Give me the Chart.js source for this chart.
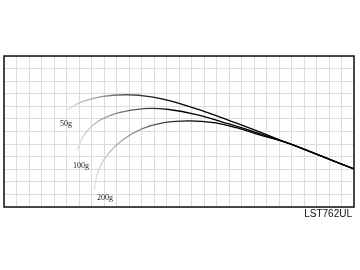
<!DOCTYPE html>
<html><head><meta charset="utf-8">
<script src="https://cdn.jsdelivr.net/npm/chart.js@4/dist/chart.umd.min.js"></script>
<style>html,body{margin:0;padding:0;background:#fff}canvas{display:block}</style>
</head><body>
<canvas id="c" width="360" height="270"></canvas>
<script>
const seriesNames = ['50g', '100g', '200g'];
const x50 = [5.04, 6.2, 7.8, 9.8, 11.8, 13.8, 16.0, 18.5, 21.0, 23.0, 25.5, 28];
const y50 = [7.71, 8.35, 8.78, 8.92, 8.75, 8.30, 7.60, 6.70, 5.75, 4.97, 4.00, 3.02];
const x100 = [5.84, 6.5, 7.6, 9.2, 11.2, 13.2, 15.4, 18.0, 20.5, 23.0, 25.5, 28];
const y100 = [4.53, 5.85, 6.85, 7.50, 7.82, 7.75, 7.35, 6.60, 5.82, 4.97, 4.00, 3.02];
const x200 = [7.2, 7.55, 8.3, 9.5, 11.0, 12.8, 14.8, 16.8, 18.6, 20.5, 23.0, 25.5, 28];
const y200 = [1.35, 2.90, 4.20, 5.35, 6.20, 6.70, 6.85, 6.70, 6.30, 5.72, 4.97, 4.00, 3.02];
const labelX = [4.48, 5.52, 7.44];
const labelY = [6.6, 3.26, 0.72];
const modelName = 'LST762UL';

function pts(xs, ys) { return xs.map((x, i) => ({x: x, y: ys[i]})); }

function grad(ctx) {
  const chart = ctx.chart;
  const area = chart.chartArea;
  if (!area) return '#000';
  const ds = chart.data.datasets[ctx.datasetIndex];
  const xs = chart.scales.x;
  const x0 = xs.getPixelForValue(ds.data[0].x);
  const g = chart.ctx.createLinearGradient(x0, 0, x0 + 100, 0);
  g.addColorStop(0, '#e2e2e2');
  g.addColorStop(0.5, '#6a6a6a');
  g.addColorStop(1, '#000000');
  return g;
}

const overlay = {
  id: 'overlay',
  afterDraw(chart) {
    const c = chart.ctx, a = chart.chartArea;
    const xs = chart.scales.x, ys = chart.scales.y;
    c.save();
    c.strokeStyle = '#111';
    c.lineWidth = 1.5;
    c.strokeRect(a.left, a.top, a.right - a.left, a.bottom - a.top);
    c.fillStyle = '#222';
    c.font = '8px "Liberation Serif"';
    c.textBaseline = 'middle';
    c.textAlign = 'left';
    seriesNames.forEach((n, i) => {
      c.fillText(n, xs.getPixelForValue(labelX[i]), ys.getPixelForValue(labelY[i]));
    });
    c.font = '10px "Liberation Sans"';
    c.textAlign = 'right';
    c.fillStyle = '#111';
    c.fillText(modelName, a.right - 2, a.bottom + 7);
    c.restore();
  }
};

new Chart(document.getElementById('c'), {
  type: 'line',
  data: {
    datasets: [
      {label: seriesNames[0], data: pts(x50, y50)},
      {label: seriesNames[1], data: pts(x100, y100)},
      {label: seriesNames[2], data: pts(x200, y200)}
    ].map(d => Object.assign(d, {borderColor: grad, borderWidth: 1.3, pointRadius: 0, tension: 0.4, fill: false}))
  },
  options: {
    responsive: false,
    animation: false,
    events: [],
    layout: {padding: {left: 4, top: 56, right: 6, bottom: 63}},
    plugins: {legend: {display: false}, tooltip: {enabled: false}},
    scales: {
      x: {type: 'linear', min: 0, max: 28, ticks: {display: false, stepSize: 1}, grid: {color: '#dcdcdc', lineWidth: 1, drawTicks: false}, border: {display: false}},
      y: {type: 'linear', min: 0, max: 12, ticks: {display: false, stepSize: 1}, grid: {color: '#dcdcdc', lineWidth: 1, drawTicks: false}, border: {display: false}}
    }
  },
  plugins: [overlay]
});
</script>
</body></html>
